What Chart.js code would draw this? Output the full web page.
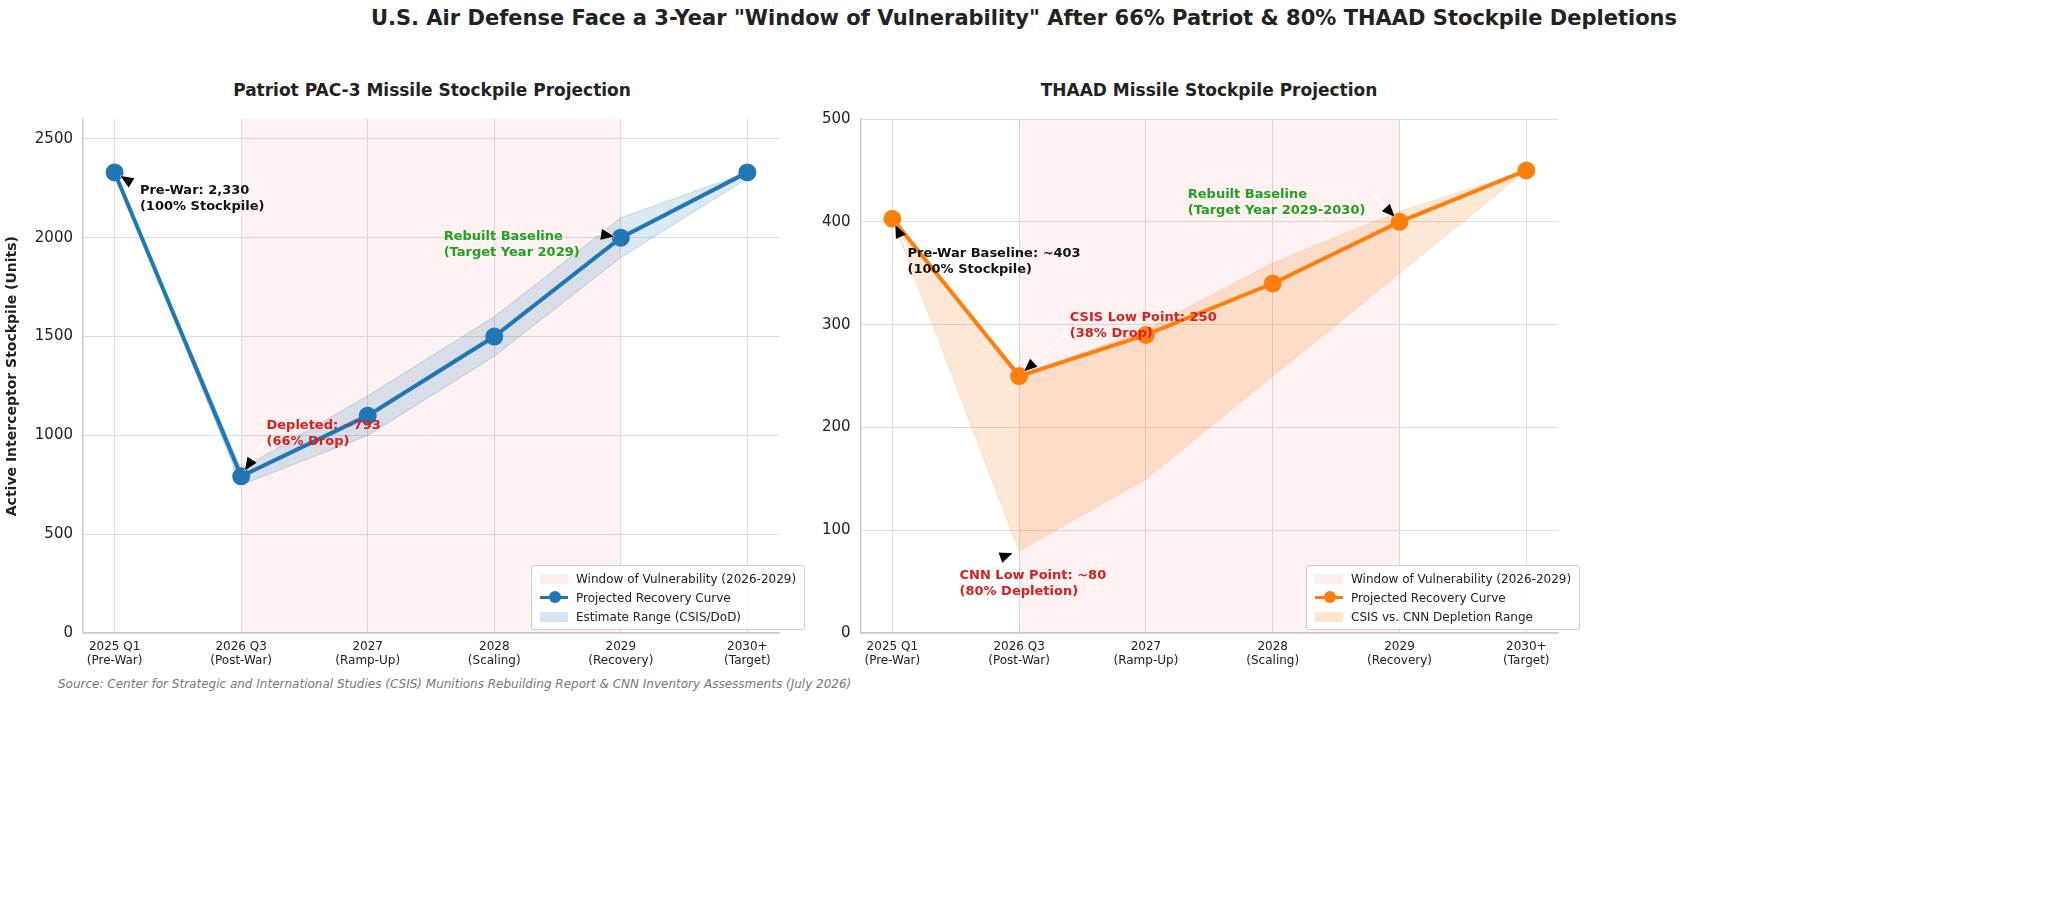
<!DOCTYPE html>
<html lang="en">
<head>
<meta charset="UTF-8">
<title>Air Defense Stockpiles</title>
<script src="https://cdn.jsdelivr.net/npm/chart.js@4.4.1/dist/chart.umd.min.js"></script>
<style>
  body { margin: 0; width: 2048px; height: 916px; background: #fff; font-family: "DejaVu Sans", sans-serif; position: relative; overflow: hidden; }
  #title { position: absolute; top: 6px; left: 0; width: 2048px; text-align: center; font-size: 21px; font-weight: bold; color: #222; }
  .sub { position: absolute; top: 80px; font-size: 17px; font-weight: bold; color: #222; text-align: center; }
  canvas { position: absolute; }
  .legend { position: absolute; background: rgba(255,255,255,0.85); border: 1px solid #ccc; border-radius: 3px; padding: 3px 8px; font-size: 12px; color: #222; }
  .legend div { display: flex; align-items: center; height: 19px; }
  .sw { width: 28px; height: 10px; margin-right: 8px; }
  #source { position: absolute; left: 58px; top: 677px; font-size: 12px; font-style: italic; color: #777; }
</style>
</head>
<body>
<div id="title">U.S. Air Defense Face a 3-Year "Window of Vulnerability" After 66% Patriot &amp; 80% THAAD Stockpile Depletions</div>
<div class="sub" style="left:82px;width:700px">Patriot PAC-3 Missile Stockpile Projection</div>
<div class="sub" style="left:860px;width:698px">THAAD Missile Stockpile Projection</div>
<canvas id="left" width="790" height="574" style="left:0;top:100px"></canvas>
<canvas id="right" width="790" height="574" style="left:790px;top:100px"></canvas>
<div class="legend" style="left:531px;top:565px">
  <div><span class="sw" style="background:rgba(240,128,128,0.12)"></span>Window of Vulnerability (2026-2029)</div>
  <div><span class="sw" style="height:3px;background:#1f77b4;position:relative"><span style="position:absolute;left:9px;top:-5px;width:12px;height:12px;border-radius:6px;background:#1f77b4"></span></span>Projected Recovery Curve</div>
  <div><span class="sw" style="background:rgba(31,119,180,0.18)"></span>Estimate Range (CSIS/DoD)</div>
</div>
<div class="legend" style="left:1306px;top:565px">
  <div><span class="sw" style="background:rgba(240,128,128,0.12)"></span>Window of Vulnerability (2026-2029)</div>
  <div><span class="sw" style="height:3px;background:#ff7f0e;position:relative"><span style="position:absolute;left:9px;top:-5px;width:12px;height:12px;border-radius:6px;background:#ff7f0e"></span></span>Projected Recovery Curve</div>
  <div><span class="sw" style="background:rgba(255,127,14,0.2)"></span>CSIS vs. CNN Depletion Range</div>
</div>
<div id="source">Source: Center for Strategic and International Studies (CSIS) Munitions Rebuilding Report &amp; CNN Inventory Assessments (July 2026)</div>
<script>
const periods = [['2025 Q1', '(Pre-War)'], ['2026 Q3', '(Post-War)'], ['2027', '(Ramp-Up)'], ['2028', '(Scaling)'], ['2029', '(Recovery)'], ['2030+', '(Target)']];

const patriotValues = [2330, 793, 1100, 1500, 2000, 2330];
const patriotUpper = [2330, 830, 1200, 1600, 2100, 2330];
const patriotLower = [2330, 750, 1000, 1400, 1900, 2300];
const patriotTicks = [0, 500, 1000, 1500, 2000, 2500];

const thaadValues = [403, 250, 290, 340, 400, 450];
const thaadUpper = [403, 250, 295, 360, 410, 450];
const thaadLower = [403, 80, 150, 250, 350, 450];
const thaadTicks = [0, 100, 200, 300, 400, 500];

const windowStart = 1, windowEnd = 4;

const pts = arr => arr.map((v, i) => ({ x: i, y: v }));

// annotations: [text lines, color, point index, point value, text x (index units), text y (value)]
const patriotNotes = [
  [['Pre-War: 2,330', '(100% Stockpile)'], '#111', 0, 2330, 0.2, 2230],
  [['Depleted: ~793', '(66% Drop)'], '#d62020', 1, 793, 1.2, 1040],
  [['Rebuilt Baseline', '(Target Year 2029)'], '#22a022', 4, 2000, 2.6, 2000]
];
const thaadNotes = [
  [['Pre-War Baseline: ~403', '(100% Stockpile)'], '#111', 0, 403, 0.12, 368],
  [['CSIS Low Point: 250', '(38% Drop)'], '#d62020', 1, 250, 1.4, 305],
  [['CNN Low Point: ~80', '(80% Depletion)'], '#d62020', 1, 80, 0.53, 55],
  [['Rebuilt Baseline', '(Target Year 2029-2030)'], '#22a022', 4, 400, 2.33, 425]
];

function notesPlugin(notes) {
  return {
    id: 'notes',
    afterDatasetsDraw(chart) {
      const c = chart.ctx, xs = chart.scales.x, ys = chart.scales.y;
      c.save();
      c.font = 'bold 13px "DejaVu Sans"';
      notes.forEach(n => {
        const px = xs.getPixelForValue(n[2]), py = ys.getPixelForValue(n[3]);
        const tx = xs.getPixelForValue(n[4]), ty = ys.getPixelForValue(n[5]);
        const w = Math.max(...n[0].map(t => c.measureText(t).width));
        let ax = px > tx + w ? tx + w + 4 : tx;
        let ay = py < ty ? ty - 4 : ty + 10;
        if (px > tx + w) ay = ty - 6;
        const ang = Math.atan2(py - ay, px - ax);
        const ex = px - Math.cos(ang) * 7, ey = py - Math.sin(ang) * 7;
        c.strokeStyle = '#fff'; c.lineWidth = 2;
        c.beginPath(); c.moveTo(ax, ay); c.lineTo(ex, ey); c.stroke();
        c.fillStyle = '#000';
        c.beginPath();
        c.moveTo(ex, ey);
        c.lineTo(ex - Math.cos(ang - 0.4) * 14, ey - Math.sin(ang - 0.4) * 14);
        c.lineTo(ex - Math.cos(ang + 0.4) * 14, ey - Math.sin(ang + 0.4) * 14);
        c.closePath(); c.fill();
        c.fillStyle = n[1];
        c.textBaseline = 'top';
        n[0].forEach((t, i) => c.fillText(t, tx, ty - 8 + i * 16));
      });
      c.restore();
    }
  };
}

function makeChart(id, values, upper, lower, color, bandColor, bandBorder, yMax, yTicks, notes, showTitle, padLeft, padRight) {
  new Chart(document.getElementById(id), {
    type: 'line',
    data: {
      datasets: [
        { data: [{ x: windowStart, y: yMax }, { x: windowEnd, y: yMax }], fill: 'origin', backgroundColor: 'rgba(240,128,128,0.11)', borderColor: 'rgba(240,128,128,0.25)', borderWidth: 0, pointRadius: 0, order: 5 },
        { data: pts(values), borderColor: color, backgroundColor: color, borderWidth: 4, pointRadius: 7, pointHoverRadius: 7, fill: false, order: 0 },
        { data: pts(upper), borderColor: bandBorder, borderWidth: 1, pointRadius: 0, fill: '+1', backgroundColor: bandColor, order: 3 },
        { data: pts(lower), borderColor: bandBorder, borderWidth: 1, pointRadius: 0, fill: false, order: 4 }
      ]
    },
    options: {
      responsive: false,
      animation: false,
      layout: { padding: { left: padLeft, right: padRight, top: 3, bottom: 0 } },
      plugins: { legend: { display: false }, tooltip: { enabled: false } },
      scales: {
        x: {
          type: 'linear', min: -0.25, max: 5.25,
          afterBuildTicks: s => { s.ticks = periods.map((p, i) => ({ value: i })); },
          ticks: { callback: v => periods[v], color: '#222', font: { size: 12, family: 'DejaVu Sans' }, maxRotation: 0, padding: 6 },
          grid: { color: '#ddd', tickLength: 0 },
          border: { color: '#ccc', width: 1.5 }
        },
        y: {
          min: 0, max: yMax,
          afterBuildTicks: s => { s.ticks = yTicks.map(v => ({ value: v })); },
          ticks: { callback: v => String(v), color: '#222', font: { size: 15, family: 'DejaVu Sans' }, padding: 10 },
          grid: { color: '#ddd', tickLength: 0 },
          border: { color: '#ccc', width: 1.5 },
          title: { display: showTitle, text: 'Active Interceptor Stockpile (Units)', color: '#222', font: { size: 14, weight: 'bold', family: 'DejaVu Sans' } }
        }
      }
    },
    plugins: [notesPlugin(notes)]
  });
}

makeChart('left', patriotValues, patriotUpper, patriotLower, '#1f77b4', 'rgba(31,119,180,0.16)', 'rgba(31,119,180,0.25)', 2600, patriotTicks, patriotNotes, true, 0, 8);
makeChart('right', thaadValues, thaadUpper, thaadLower, '#ff7f0e', 'rgba(255,127,14,0.17)', 'rgba(255,127,14,0.2)', 500, thaadTicks, thaadNotes, false, 22, 22);
</script>
</body>
</html>
